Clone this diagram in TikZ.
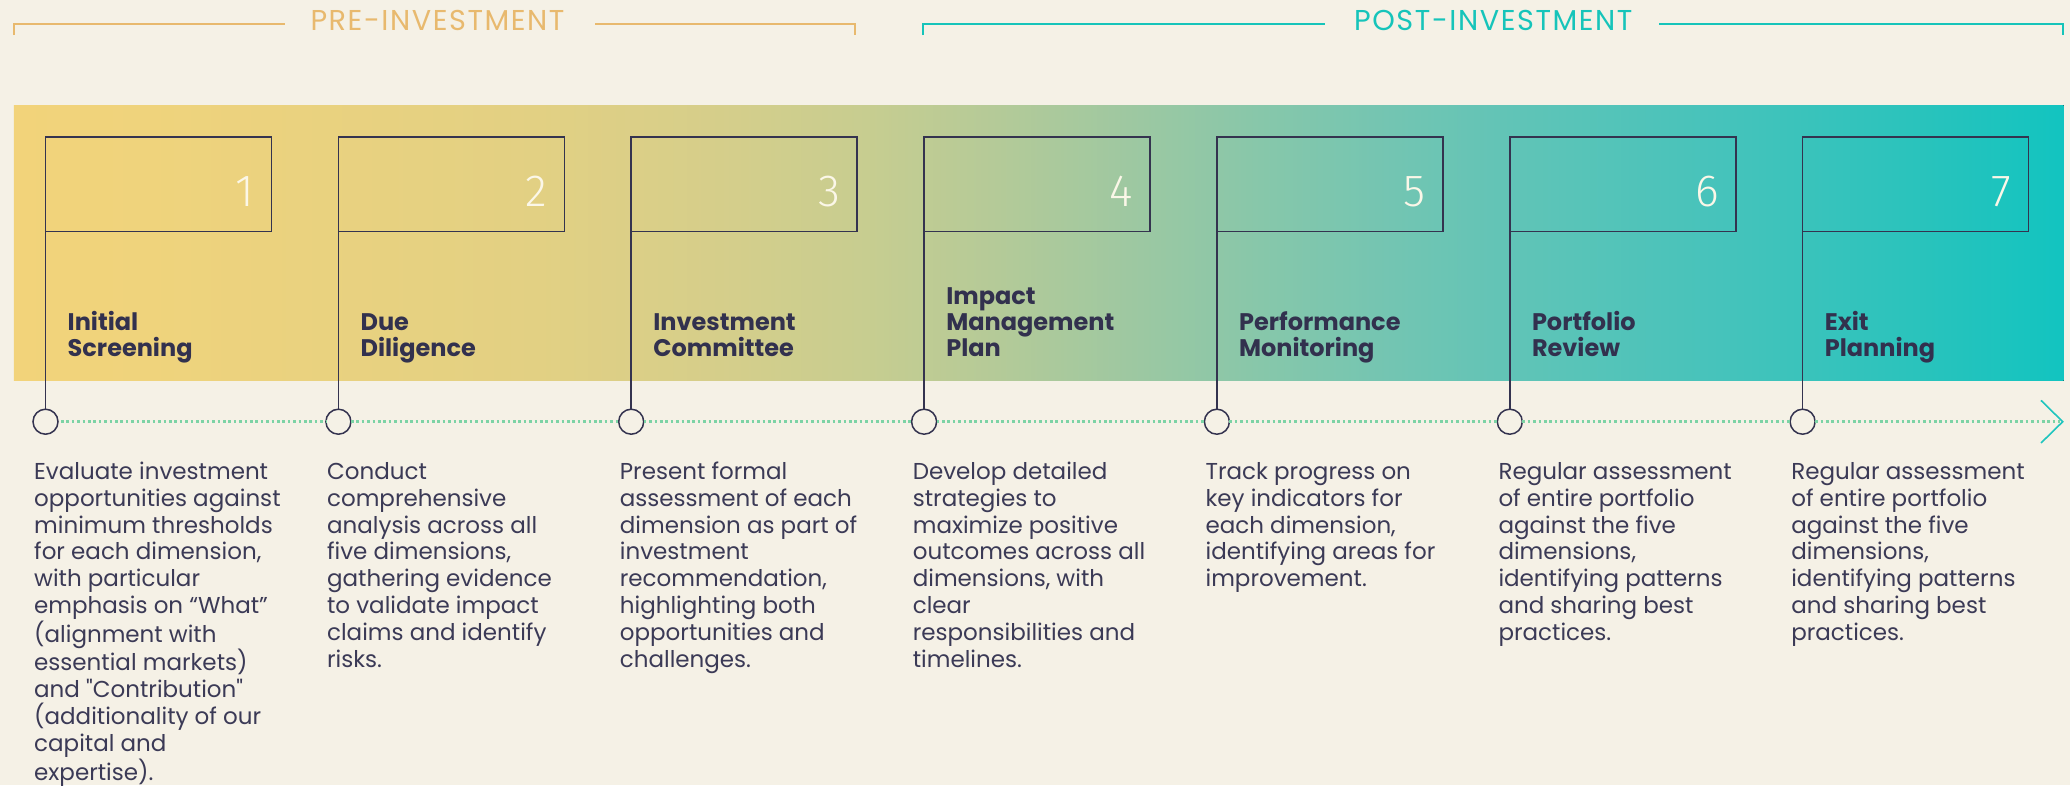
\documentclass[tikz,border=0pt]{standalone}
\usepackage{fontspec}
\setmainfont{Poppins}[Ligatures=TeXOff]
\newfontfamily\numfont{Fira Sans Light}
\newfontfamily\headfont{Poppins}[LetterSpace=5.5]
\usetikzlibrary{calc}
\definecolor{bg}{HTML}{F5F1E6}
\definecolor{navy}{HTML}{34334F}
\definecolor{titlecol}{HTML}{32314E}
\definecolor{bodycol}{HTML}{3B3A56}
\definecolor{digitcol}{HTML}{FBF7E8}
\definecolor{precol}{HTML}{E8B96E}
\definecolor{postcol}{HTML}{16C4BA}
\definecolor{dotcol}{HTML}{7CD3A5}
\definecolor{chevcol}{HTML}{1FC5BE}
\definecolor{g0}{RGB}{242,211,122}
\definecolor{g1}{RGB}{239,211,124}
\definecolor{g2}{RGB}{226,208,131}
\definecolor{g3}{RGB}{212,206,139}
\definecolor{g4}{RGB}{199,205,144}
\definecolor{g5}{RGB}{180,202,152}
\definecolor{g6}{RGB}{158,200,161}
\definecolor{g7}{RGB}{135,199,170}
\definecolor{g8}{RGB}{115,197,178}
\definecolor{g9}{RGB}{95,196,183}
\definecolor{g10}{RGB}{70,195,187}
\definecolor{g11}{RGB}{42,195,188}
\definecolor{g12}{RGB}{18,196,192}
\pgfdeclarehorizontalshading{bandshade}{100bp}{color(0bp)=(g0); color(25bp)=(g0); color(28.2bp)=(g1); color(37.8bp)=(g2); color(42.6bp)=(g3); color(45.8bp)=(g4); color(49bp)=(g5); color(52.2bp)=(g6); color(55.4bp)=(g7); color(58.6bp)=(g8); color(61.8bp)=(g9); color(66.6bp)=(g10); color(71.4bp)=(g11); color(75bp)=(g12); color(100bp)=(g12)}
\tikzset{
  flagbox/.style={draw=navy, line width=1.5pt, minimum width=226pt, minimum height=94.3pt, inner sep=0pt, outer sep=0pt, anchor=north west},
  digit/.style={font=\numfont\fontsize{45}{45}\selectfont, text=digitcol, inner sep=0pt, anchor=base east},
  dotnode/.style={circle, draw=navy, line width=1.5pt, fill=bg, minimum size=25pt, inner sep=0pt, outer sep=0pt},
  pole/.style={draw=navy, line width=1.5pt},
  titletext/.style={font=\bfseries\fontsize{24}{26}\selectfont, text=titlecol, align=left, inner sep=0pt, anchor=north west},
  bodytext/.style={font=\fontsize{23}{26.9}\selectfont, text=bodycol, align=left, inner sep=0pt, anchor=north west},
  dotline/.style={draw=dotcol, line width=2.5pt, dash pattern=on 2.6pt off 2.8pt},
  chevron/.style={draw=chevcol, line width=1.6pt},
  headtext/.style={font=\headfont\fontsize{28.7}{30}\selectfont, inner sep=0pt, anchor=center},
  prebr/.style={draw=precol, line width=1.8pt},
  postbr/.style={draw=postcol, line width=1.8pt}
}
\newcommand{\fs}{\rule{0pt}{20pt}}
\begin{document}
\begin{tikzpicture}[x=1pt,y=-1pt]
\useasboundingbox (0,0) rectangle (2070,785);
\fill[bg] (0,0) rectangle (2070,785);
\fill[shading=bandshade] (13.8,105) rectangle (2063.6,380.7);

% top brackets
\node[headtext, text=precol] (pre) at (437.5,20) {PRE-INVESTMENT};
\coordinate (preL) at (13.8,35);
\coordinate (preLa) at (285,24);
\coordinate (preRa) at (595,24);
\coordinate (preR) at (855,35);
\draw[prebr] (preL) |- (preLa);
\draw[prebr] (preRa) -| (preR);

\node[headtext, text=postcol] (post) at (1493.3,20) {POST-INVESTMENT};
\coordinate (postL) at (923,35);
\coordinate (postLa) at (1325,24);
\coordinate (postRa) at (1659,24);
\coordinate (postR) at (2062.7,35);
\draw[postbr] (postL) |- (postLa);
\draw[postbr] (postRa) -| (postR);

% flags, digits, circles, poles
\foreach \i/\x in {1/45.5, 2/338.4, 3/631.2, 4/924.1, 5/1216.9, 6/1509.8, 7/1802.6}{
  \node[flagbox] (b\i) at (\x,137) {};
  \node[digit] (n\i) at (\x+209,206) {\i};
  \node[dotnode] (c\i) at (\x,421.7) {};
  \draw[pole] (b\i.south west) -- (c\i.north);
}

% titles
\node[titletext] (t1) at (67.5,310) {\fs Initial\\Screening};
\node[titletext] (t2) at (360.4,310) {\fs Due\\Diligence};
\node[titletext] (t3) at (653.2,310) {\fs Investment\\Committee};
\node[titletext] (t4) at (946.1,284) {\fs Impact\\Management\\Plan};
\node[titletext] (t5) at (1238.9,310) {\fs Performance\\Monitoring};
\node[titletext] (t6) at (1531.8,310) {\fs Portfolio\\Review};
\node[titletext] (t7) at (1824.6,310) {\fs Exit\\Planning};

% timeline
\draw[dotline] ([xshift=3pt]c1.east) -- (c2.west);
\draw[dotline] (c2.east) -- (c3.west);
\draw[dotline] (c3.east) -- (c4.west);
\draw[dotline] (c4.east) -- (c5.west);
\draw[dotline] (c5.east) -- (c6.west);
\draw[dotline] (c6.east) -- (c7.west);
\coordinate (tip) at (2062.7,421.7);
\draw[dotline] (c7.east) -- ([xshift=-3pt]tip);
\draw[chevron] ([shift={(-21.7,-21.3)}]tip) -- (tip) -- ([shift={(-21.7,21.3)}]tip);

% descriptions
\node[bodytext] (d1) at (34,459) {\fs Evaluate investment\\opportunities against\\minimum thresholds\\for each dimension,\\with particular\\emphasis on “What”\\(alignment with\\essential markets)\\and "Contribution"\\(additionality of our\\capital and\\expertise).};
\node[bodytext] (d2) at (326.9,459) {\fs Conduct\\comprehensive\\analysis across all\\five dimensions,\\gathering evidence\\to validate impact\\claims and identify\\risks.};
\node[bodytext] (d3) at (619.7,459) {\fs Present formal\\assessment of each\\dimension as part of\\investment\\recommendation,\\highlighting both\\opportunities and\\challenges.};
\node[bodytext] (d4) at (912.6,459) {\fs Develop detailed\\strategies to\\maximize positive\\outcomes across all\\dimensions, with\\clear\\responsibilities and\\timelines.};
\node[bodytext] (d5) at (1205.4,459) {\fs Track progress on\\key indicators for\\each dimension,\\identifying areas for\\improvement.};
\node[bodytext] (d6) at (1498.3,459) {\fs Regular assessment\\of entire portfolio\\against the five\\dimensions,\\identifying patterns\\and sharing best\\practices.};
\node[bodytext] (d7) at (1791.1,459) {\fs Regular assessment\\of entire portfolio\\against the five\\dimensions,\\identifying patterns\\and sharing best\\practices.};
\end{tikzpicture}
\end{document}
